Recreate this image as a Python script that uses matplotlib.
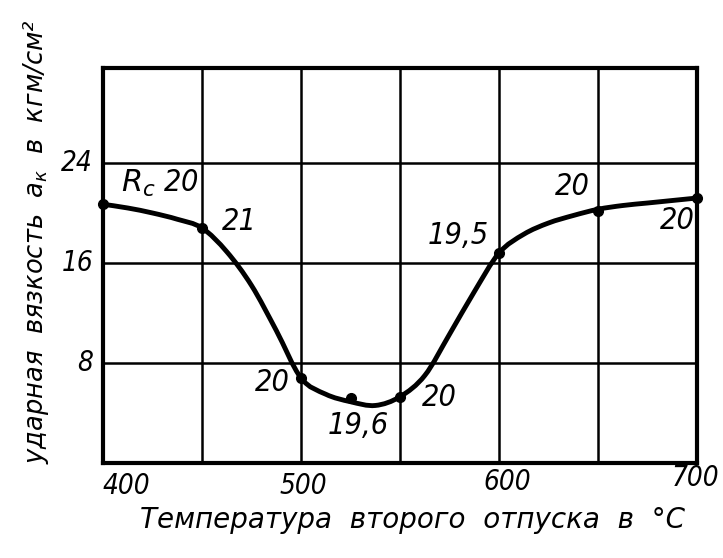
import matplotlib
matplotlib.use('Agg')
import matplotlib.pyplot as plt
from matplotlib.path import Path
from matplotlib.patches import PathPatch
import numpy as np

# measured points (temperature of second tempering, impact strength)
temps = [400, 450, 500, 525, 550, 600, 650, 700]
ak = [20.7, 18.8, 6.8, 5.2, 5.3, 16.8, 20.2, 21.2]
hrc = ['20', '21', '20', '19,6', '20', '19,5', '20', '20']

# values
curve_t = [400, 412.5, 425, 437.5, 450, 462.5, 475, 487.5, 500, 512.5, 525,
           537.5, 550, 562.5, 575, 587.5, 600, 612.5, 625, 637.5, 650,
           662.5, 675, 687.5, 700]
curve_ak = [20.7, 20.4, 20.0, 19.5, 18.8, 16.9, 14.2, 10.6, 6.8, 5.5, 4.9,
            4.6, 5.3, 7.0, 10.3, 13.7, 16.8, 18.3, 19.2, 19.8, 20.3,
            20.6, 20.8, 21.0, 21.2]

# where the hardness numbers sit (x, y, alignment)
lab_x = [409, 460, 494.5, 529, 561, 595, 646, 699]
lab_y = [22.4, 19.3, 6.4, 3.0, 5.2, 18.2, 22.1, 19.4]
lab_ha = ['left', 'left', 'right', 'center', 'left', 'right', 'right', 'right']

xticks = [400, 500, 600, 700]
xtick_x = [400, 501, 604, 699]
xtick_y = [-1.85, -1.85, -1.55, -1.2]
yticks = [8, 16, 24]

plt.rcParams['mathtext.fontset'] = 'dejavusans'
font = dict(family='DejaVu Sans', style='italic', stretch='condensed')
font_lab = dict(family='DejaVu Sans', style='italic')


def smooth_path(xs, ys):
    # catmull-rom through the read points, drawn as cubic beziers
    p = np.column_stack([xs, ys]).astype(float)
    p = np.vstack([p[0], p, p[-1]])
    verts = [p[1]]
    codes = [Path.MOVETO]
    for i in range(1, len(p) - 2):
        c1 = p[i] + (p[i + 1] - p[i - 1]) / 6
        c2 = p[i + 1] - (p[i + 2] - p[i]) / 6
        verts += [c1, c2, p[i + 1]]
        codes += [Path.CURVE4] * 3
    return Path(verts, codes)


fig = plt.figure(figsize=(7.23, 5.58), dpi=100)
ax = fig.add_axes([0.1425, 0.1703, 0.8216, 0.7078])

ax.set_xlim(400, 700)
ax.set_ylim(0, 31.6)
for x in range(450, 700, 50):
    ax.axvline(x, color='black', lw=1.8)
for y in yticks:
    ax.axhline(y, color='black', lw=1.8)
for s in ax.spines.values():
    s.set_linewidth(3)

ax.add_patch(PathPatch(smooth_path(curve_t, curve_ak), fill=False,
                       edgecolor='black', lw=3.5, capstyle='round'))
ax.plot(temps, ak, 'o', color='black', ms=7, clip_on=False)

ax.set_xticks([])
ax.set_yticks([])

for i, t in enumerate(hrc):
    txt = t
    if i == 0:
        txt = r'$\mathit{R_c}$' + ' 20'
    ax.text(lab_x[i], lab_y[i], txt, ha=lab_ha[i], va='center',
            fontsize=22, **font)

for i, t in enumerate(xticks):
    ha = 'left' if t == 400 else 'center'
    ax.text(xtick_x[i], xtick_y[i], str(t), ha=ha, va='center',
            fontsize=20, **font)
for t in yticks:
    ax.text(395, t, str(t), ha='right', va='center', fontsize=20, **font)

fig.text(0.570, 0.068, 'Температура  второго  отпуска  в  °C',
         ha='center', va='center', fontsize=20, **font_lab)
fig.text(0.050, 0.567, r'ударная  вязкость  $\mathit{a_к}$  в  кгм/см²',
         rotation=90, ha='center', va='center', fontsize=18.5, **font_lab)

fig.savefig('out.png', dpi=100)
